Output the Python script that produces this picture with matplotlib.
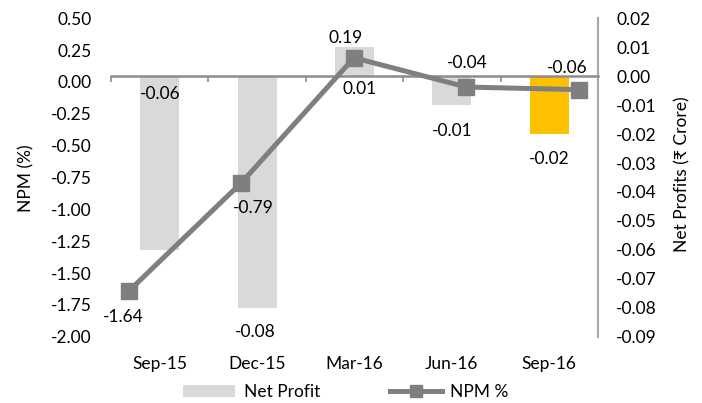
import numpy as np
import matplotlib
matplotlib.use("Agg")
import matplotlib.pyplot as plt
import matplotlib.transforms as mtransforms
from matplotlib.lines import Line2D
from matplotlib.patches import Patch

quarters = ["Sep-15", "Dec-15", "Mar-16", "Jun-16", "Sep-16"]
net_profit = [-0.06, -0.08, 0.01, -0.01, -0.02]   # Rs Crore, right axis
npm = [-1.64, -0.79, 0.19, -0.04, -0.06]          # %, left axis

bar_colors = ["#d9d9d9", "#d9d9d9", "#d9d9d9", "#d9d9d9", "#ffc000"]
line_color = "#7f7f7f"

# label offsets in pixels (Excel put them a bit all over the place)
bar_lbl_off = [(0, 156), (-2, -24), (5, -42), (0, -26), (0, -25)]
npm_lbl_off = [(-6, -26), (12, -25), (-8, 20), (1, 24), (-12, 22)]

plt.rcParams["font.family"] = ["Lato", "DejaVu Sans"]
plt.rcParams["font.size"] = 12.5
plt.rcParams["axes.unicode_minus"] = False

fig = plt.figure(figsize=(7.02, 4.03), dpi=100)
rect = [111 / 702, 66.3 / 403, 487 / 702, 318.4 / 403]

# bars -> right axis
ax = fig.add_axes(rect)
x = np.arange(len(quarters))
ax.bar(x, net_profit, width=0.4, color=bar_colors, zorder=1)
ax.set_xlim(-0.5, 4.5)
ax.set_ylim(-0.09, 0.02)
rticks = np.round(np.arange(-0.09, 0.021, 0.01), 2)
ax.set_yticks(rticks)
ax.set_yticklabels(["%.2f" % (v + 0.0) for v in rticks])
ax.yaxis.tick_right()
ax.tick_params(axis="y", length=0, pad=13)
ax.set_xticks(np.arange(-0.5, 5, 1.0))
ax.set_xticklabels([])
ax.tick_params(axis="x", direction="out", length=4, width=1.2, color="#8c8c8c")
for s in ["left", "top"]:
    ax.spines[s].set_visible(False)
ax.spines["right"].set_color("#a6a6a6")
ax.spines["right"].set_linewidth(1.5)
ax.spines["bottom"].set_position(("data", 0))
ax.spines["bottom"].set_color("#8c8c8c")
ax.spines["bottom"].set_linewidth(1.8)

trans = mtransforms.blended_transform_factory(ax.transData, ax.transAxes)
for i, q in enumerate(quarters):
    ax.text(i, -0.086, q, transform=trans, ha="center", va="center")

for i, v in enumerate(net_profit):
    ax.annotate("%.2f" % v, (i, v), xytext=bar_lbl_off[i], textcoords="offset pixels",
                ha="center", va="center")

# NPM line -> left axis, own x scale
ax2 = fig.add_axes(rect, frameon=False, label="npm")
ax2.plot(x, npm, color=line_color, lw=3.6, marker="s", ms=12, zorder=3)
ax2.set_xlim(-0.16, 4.169)
ax2.set_ylim(-2.0, 0.5)
lticks = np.arange(-2.0, 0.51, 0.25)
ax2.set_yticks(lticks)
ax2.set_yticklabels(["%.2f" % v for v in lticks])
ax2.tick_params(axis="y", length=0, pad=14)
ax2.set_xticks([])

for i, v in enumerate(npm):
    ax2.annotate("%.2f" % v, (i, v), xytext=npm_lbl_off[i], textcoords="offset pixels",
                 ha="center", va="center")

fig.text(26 / 702, 1 - 178 / 403, "NPM (%)", rotation=90, ha="center", va="center")
fig.text(682 / 702, 1 - 174 / 403, "Net Profits (₹ Crore)", rotation=90, ha="center", va="center")

handles = [Patch(facecolor="#d9d9d9"),
           Line2D([], [], color=line_color, lw=3.6, marker="s", ms=9)]
fig.legend(handles, ["Net Profit", "NPM %"], loc="center",
           bbox_to_anchor=(346 / 702, 1 - 392 / 403), ncol=2, frameon=False,
           handlelength=3, columnspacing=4, handletextpad=0.5)

fig.savefig("out.png", dpi=100)
